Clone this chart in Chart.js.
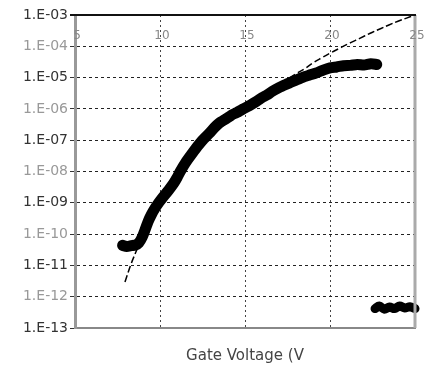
<!DOCTYPE html>
<html>
<head>
<meta charset="utf-8">
<script src="https://cdn.jsdelivr.net/npm/chart.js@4/dist/chart.umd.min.js"></script>
<style>
html, body { margin: 0; padding: 0; background: #fff; }
</style>
</head>
<body>
<canvas id="chart" width="425" height="368"></canvas>
<script>
// Axis ticks
const xTickValues = [5, 10, 15, 20, 25];
const xTickLabels = ['5', '10', '15', '20', '25'];
const yExponents = [-13, -12, -11, -10, -9, -8, -7, -6, -5, -4, -3];
const yTickLabels = ['1.E-13', '1.E-12', '1.E-11', '1.E-10', '1.E-09', '1.E-08',
                     '1.E-07', '1.E-06', '1.E-05', '1.E-04', '1.E-03'];

// Measured drain current (log10 of A) vs gate voltage
const vgMeas = [7.80, 8.05, 8.30, 8.55, 8.75, 8.95, 9.15, 9.30, 9.50, 9.70, 9.95,
                10.2, 10.5, 10.8, 11.0, 11.2, 11.5, 11.9, 12.2, 12.5, 12.9, 13.2,
                13.5, 13.9, 14.2, 14.5, 14.9, 15.3, 15.7, 16.0, 16.3, 16.6, 17.0,
                17.4, 17.7, 18.0, 18.4, 18.8, 19.2, 19.6, 20.0, 20.4, 20.8, 21.2,
                21.6, 22.0, 22.4, 22.75];
const idMeasLog = [-10.36, -10.40, -10.37, -10.35, -10.28, -10.10, -9.82, -9.60, -9.37, -9.18, -8.98,
                   -8.80, -8.60, -8.38, -8.20, -7.99, -7.72, -7.42, -7.20, -7.00, -6.78, -6.60,
                   -6.45, -6.31, -6.20, -6.12, -6.00, -5.88, -5.75, -5.64, -5.55, -5.44, -5.32,
                   -5.22, -5.15, -5.08, -4.99, -4.92, -4.85, -4.76, -4.69, -4.66, -4.62, -4.61,
                   -4.58, -4.60, -4.56, -4.58];

// Low-current cluster at the right
const vgLow = [22.65, 22.9, 23.2, 23.5, 23.8, 24.1, 24.4, 24.7, 25.0];
const idLowLog = [-12.38, -12.30, -12.40, -12.33, -12.38, -12.30, -12.36, -12.32, -12.38];

// Model fit (dashed)
const vgFit = [7.94, 8.3, 8.6, 9.0, 9.5, 10.0, 10.5, 11.0, 11.5, 12.0, 12.5, 13.0, 13.5,
               14.0, 14.5, 15.0, 15.5, 16.0, 16.5, 17.0, 17.5, 18.0, 18.5, 19.0, 19.5,
               20.0, 20.5, 21.0, 21.5, 22.0, 22.5, 23.0, 23.5, 24.0, 24.5, 25.0];
const idFitLog = [-11.53, -10.95, -10.55, -10.0, -9.38, -8.92, -8.52, -8.15, -7.78, -7.40, -7.05, -6.74, -6.47,
                  -6.22, -6.0, -5.82, -5.70, -5.54, -5.38, -5.22, -5.05, -4.88, -4.72, -4.53, -4.37,
                  -4.22, -4.08, -3.94, -3.81, -3.68, -3.55, -3.43, -3.31, -3.20, -3.10, -3.0];

const xLabelLevel = -3.68; // where the voltage labels sit (log10 units)

function toPoints(xs, logs) {
    return xs.map((x, i) => ({ x: x, y: Math.pow(10, logs[i]) }));
}

const framePlugin = {
    id: 'frame',
    afterDraw(chart) {
        const { ctx, chartArea: a, scales } = chart;
        ctx.save();
        // right border
        ctx.strokeStyle = '#aaa';
        ctx.lineWidth = 3;
        ctx.beginPath();
        ctx.moveTo(a.right, a.top);
        ctx.lineTo(a.right, a.bottom);
        ctx.stroke();
        // top border
        ctx.strokeStyle = '#111';
        ctx.lineWidth = 2;
        ctx.beginPath();
        ctx.moveTo(a.left - 5, a.top);
        ctx.lineTo(a.right + 1, a.top);
        ctx.stroke();
        // voltage labels inside the plot
        ctx.font = '12px "DejaVu Sans"';
        ctx.fillStyle = '#888';
        ctx.textAlign = 'center';
        ctx.textBaseline = 'middle';
        const ly = scales.y.getPixelForValue(Math.pow(10, xLabelLevel));
        xTickValues.forEach((v, i) => {
            ctx.fillText(xTickLabels[i], scales.x.getPixelForValue(v) + 2, ly);
        });
        ctx.restore();
    }
};

new Chart(document.getElementById('chart'), {
    type: 'line',
    data: {
        datasets: [{
            data: toPoints(vgMeas, idMeasLog),
            borderColor: '#000',
            borderWidth: 11,
            borderJoinStyle: 'round',
            borderCapStyle: 'round',
            pointRadius: 0,
            tension: 0.2
        }, {
            data: toPoints(vgLow, idLowLog),
            borderColor: '#000',
            borderWidth: 9,
            borderJoinStyle: 'round',
            borderCapStyle: 'round',
            pointRadius: 0,
            tension: 0.3,
            clip: false
        }, {
            data: toPoints(vgFit, idFitLog),
            borderColor: '#000',
            borderWidth: 1.5,
            borderDash: [7, 3],
            pointRadius: 0,
            tension: 0.4
        }]
    },
    options: {
        responsive: false,
        animation: false,
        layout: { padding: { top: 15, right: 10, left: 0, bottom: 0 } },
        plugins: {
            legend: { display: false },
            tooltip: { enabled: false }
        },
        scales: {
            x: {
                type: 'linear',
                min: 5,
                max: 25,
                afterBuildTicks: s => { s.ticks = xTickValues.map(v => ({ value: v })); },
                afterFit: s => { s.height = 40; },
                ticks: { display: false },
                grid: { color: '#444', lineWidth: 1, drawTicks: false },
                border: { color: '#888', width: 2, dash: [2, 3] },
                title: {
                    display: true,
                    text: 'Gate Voltage (V',
                    color: '#444',
                    font: { family: 'DejaVu Sans', size: 15 },
                    padding: { top: 21, bottom: 3 }
                }
            },
            y: {
                type: 'logarithmic',
                min: 1e-13,
                max: 1e-3,
                afterBuildTicks: s => { s.ticks = yExponents.map(e => ({ value: Math.pow(10, e) })); },
                afterFit: s => { s.width = 75; },
                ticks: {
                    callback: (v, i) => yTickLabels[i],
                    color: c => (c.index % 2 ? '#999' : '#333'),
                    font: { family: 'DejaVu Sans', size: 14 },
                    padding: 2
                },
                grid: { color: '#222', lineWidth: 1, tickLength: 5, tickColor: '#333' },
                border: { color: '#999', width: 3, dash: [3, 3] }
            }
        }
    },
    plugins: [framePlugin]
});
</script>
</body>
</html>
